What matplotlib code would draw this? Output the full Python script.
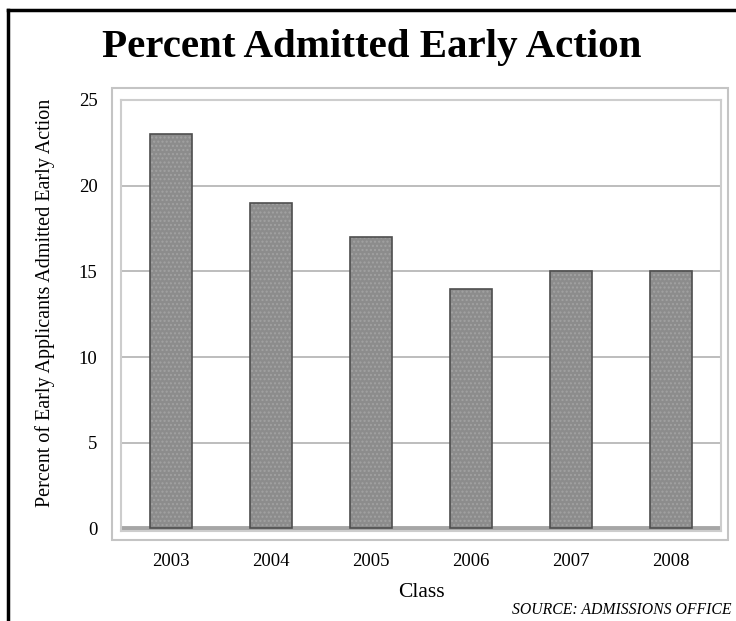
import matplotlib.pyplot as plt
from matplotlib.patches import Rectangle
from matplotlib.lines import Line2D

classes = ['2003', '2004', '2005', '2006', '2007', '2008']
percent_admitted = [23, 19, 17, 14, 15, 15]
y_ticks = [0, 5, 10, 15, 20, 25]

plt.rcParams['font.family'] = ['Liberation Serif', 'DejaVu Serif']

fig = plt.figure(figsize=(7.36, 6.21), dpi=100)

# black frame on the left and top
fig.add_artist(Line2D([8 / 736, 8 / 736], [0, 1 - 10 / 621], color='black', lw=2.5,
                      transform=fig.transFigure))
fig.add_artist(Line2D([8 / 736, 1], [1 - 10 / 621, 1 - 10 / 621], color='black', lw=2.5,
                      transform=fig.transFigure))

# outer light box around the plot
fig.add_artist(Rectangle((112 / 736, 1 - 540 / 621), (728 - 112) / 736, (540 - 88) / 621,
                         fill=False, edgecolor='#c4c4c4', lw=1.5, transform=fig.transFigure))

ax = fig.add_axes([121 / 736, 1 - 531 / 621, 600 / 736, 431 / 621])
x = range(len(classes))
ax.bar(x, percent_admitted, width=0.42, color='#8c8c8c', edgecolor='#a2a2a2',
       hatch='....', lw=0, zorder=3)
ax.bar(x, percent_admitted, width=0.42, fill=False, edgecolor='#4e4e4e', lw=1.2, zorder=4)

ax.set_xlim(-0.5, 5.5)
ax.set_ylim(-0.15, 25)
ax.set_yticks(y_ticks)
for v in y_ticks[1:]:
    ax.axhline(v, color='#b2b2b2', lw=1.2, zorder=1)
ax.axhline(0, color='#a6a6a6', lw=3.5, zorder=2)

for s in ax.spines.values():
    s.set_color('#cdcdcd')
    s.set_linewidth(1.5)

ax.tick_params(length=0)
ax.set_xticks(list(x))
ax.set_xticklabels(classes, fontsize=13.5)
ax.tick_params(axis='x', pad=16)
ax.tick_params(axis='y', pad=17, labelsize=13.5)

ax.set_xlabel('Class', fontsize=15.5, labelpad=9)
ax.set_ylabel('Percent of Early Applicants Admitted Early Action', fontsize=14.5)
ax.yaxis.set_label_coords(-0.11, 0.53)

fig.text(372 / 736, 1 - 47 / 621, 'Percent Admitted Early Action', ha='center', va='center',
         fontsize=29.5, fontweight='bold')
fig.text(731 / 736, 1 - 610 / 621, 'SOURCE: ADMISSIONS OFFICE', ha='right', va='center',
         fontsize=11.3, style='italic')

fig.savefig('out.png', dpi=100)
